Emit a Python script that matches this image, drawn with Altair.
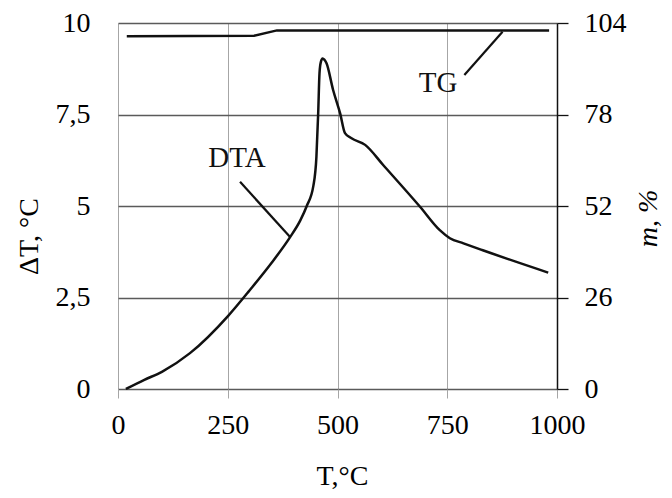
import altair as alt
import pandas as pd

# DTA curve: temperature (°C) vs ΔT (°C)
temp_dta = [18, 60, 100, 164, 251, 300, 350, 392, 415, 430, 445, 452, 456, 459,
            462, 466, 470, 475, 490, 506, 517, 532, 563, 604, 688, 733, 756, 787, 831, 980]
dta_values = [0, 0.25, 0.47, 0.98, 2.0, 2.7, 3.45, 4.15, 4.6, 5.0, 5.55, 6.35, 7.53, 8.63,
              8.93, 9.03, 9.0, 8.9, 8.17, 7.53, 6.99, 6.85, 6.67, 6.12, 4.98, 4.34, 4.12, 3.98, 3.79, 3.18]

# TG curve: temperature (°C) vs mass (%)
temp_tg = [20, 310, 362, 982]
tg_values = [100.2, 100.4, 101.9, 101.9]

x_ticks = [0, 250, 500, 750, 1000]
left_ticks = [0, 2.5, 5, 7.5, 10]
right_ticks = [0, 26, 52, 78, 104]

label_text = ["DTA", "TG"]
label_x = [271, 729]
label_y = [6.31, 8.36]
leader_x = [278, 789]
leader_y = [5.66, 8.58]
leader_x2 = [392, 876]
leader_y2 = [4.15, 9.76]

FONT = "Liberation Serif"
FS = 28

dta_df = pd.DataFrame({"T": temp_dta, "v": dta_values})
tg_df = pd.DataFrame({"T": temp_tg, "m": tg_values})
lab_df = pd.DataFrame({"T": label_x, "v": label_y, "text": label_text})
lead_df = pd.DataFrame({"T": leader_x, "v": leader_y, "T2": leader_x2, "v2": leader_y2})

xscale = alt.Scale(domain=[0, 1000], nice=False, zero=False)
yl = alt.Scale(domain=[0, 10], nice=False)
yr = alt.Scale(domain=[0, 104], nice=False)

x_axis = alt.Axis(values=x_ticks, format="d", title="T,°C", grid=True, gridColor="#a6a6a6", gridWidth=1,
                  domain=False, ticks=True, tickColor="#a6a6a6", tickSize=9, tickWidth=1,
                  labelFlush=False, labelPadding=13, labelFont=FONT, labelFontSize=FS, labelColor="#000",
                  titleFont=FONT, titleFontSize=FS, titleFontWeight="normal", titleColor="#000",
                  titleX=224, titleY=95, titleAlign="center", titleBaseline="alphabetic")

left_axis = alt.Axis(values=left_ticks, labelExpr="replace(toString(datum.value), '.', ',')",
                     grid=True, gridColor="#5a5a5a", gridWidth=1.3, domain=False, ticks=False, tickSize=0,
                     labelFlush=False, labelPadding=28, labelFont=FONT, labelFontSize=FS, labelColor="#000",
                     title="ΔT, °C", titleFont=FONT, titleFontSize=FS, titleFontWeight="normal",
                     titleColor="#000", titleAngle=270, titleX=-81, titleY=213,
                     titleAlign="center", titleBaseline="alphabetic")

right_axis = alt.Axis(orient="right", values=right_ticks, grid=False, domain=True,
                      domainColor="#111", domainWidth=1.5, ticks=True, tickColor="#111",
                      tickSize=11, tickWidth=1.3, labelFlush=False, labelPadding=16, labelFont=FONT,
                      labelFontSize=FS, labelColor="#000", title="m, %", titleFont=FONT,
                      titleFontSize=FS, titleFontWeight="normal", titleFontStyle="italic",
                      titleColor="#000", titleAngle=270, titleX=99, titleY=195,
                      titleAlign="center", titleBaseline="alphabetic")

X = alt.X("T:Q", scale=xscale, axis=x_axis)
YL = alt.Y("v:Q", scale=yl, axis=left_axis)

dta_line = alt.Chart(dta_df).mark_line(color="#111", strokeWidth=2.5, interpolate="monotone").encode(
    x=X, y=YL,
)

ann_text = alt.Chart(lab_df).mark_text(font=FONT, fontSize=FS + 1, color="#111",
                                       align="center", baseline="middle").encode(
    x=X, y=YL, text="text:N",
)

ann_rule = alt.Chart(lead_df).mark_rule(color="#111", strokeWidth=2.2).encode(
    x=X, y=YL, x2="T2:Q", y2="v2:Q",
)

left_layer = alt.layer(dta_line, ann_rule, ann_text)

tg_line = alt.Chart(tg_df).mark_line(color="#111", strokeWidth=2.5).encode(
    x=X,
    y=alt.Y("m:Q", scale=yr, axis=right_axis),
)

chart = alt.layer(left_layer, tg_line).resolve_scale(y="independent").properties(
    width=439, height=366,
    padding={"left": 110, "top": 15, "right": 107, "bottom": 101},
    autosize=alt.AutoSizeParams(type="none"),
    background="white",
).configure_view(stroke=None)

chart.save("out.html", embed_options={"renderer": "svg", "actions": False})
